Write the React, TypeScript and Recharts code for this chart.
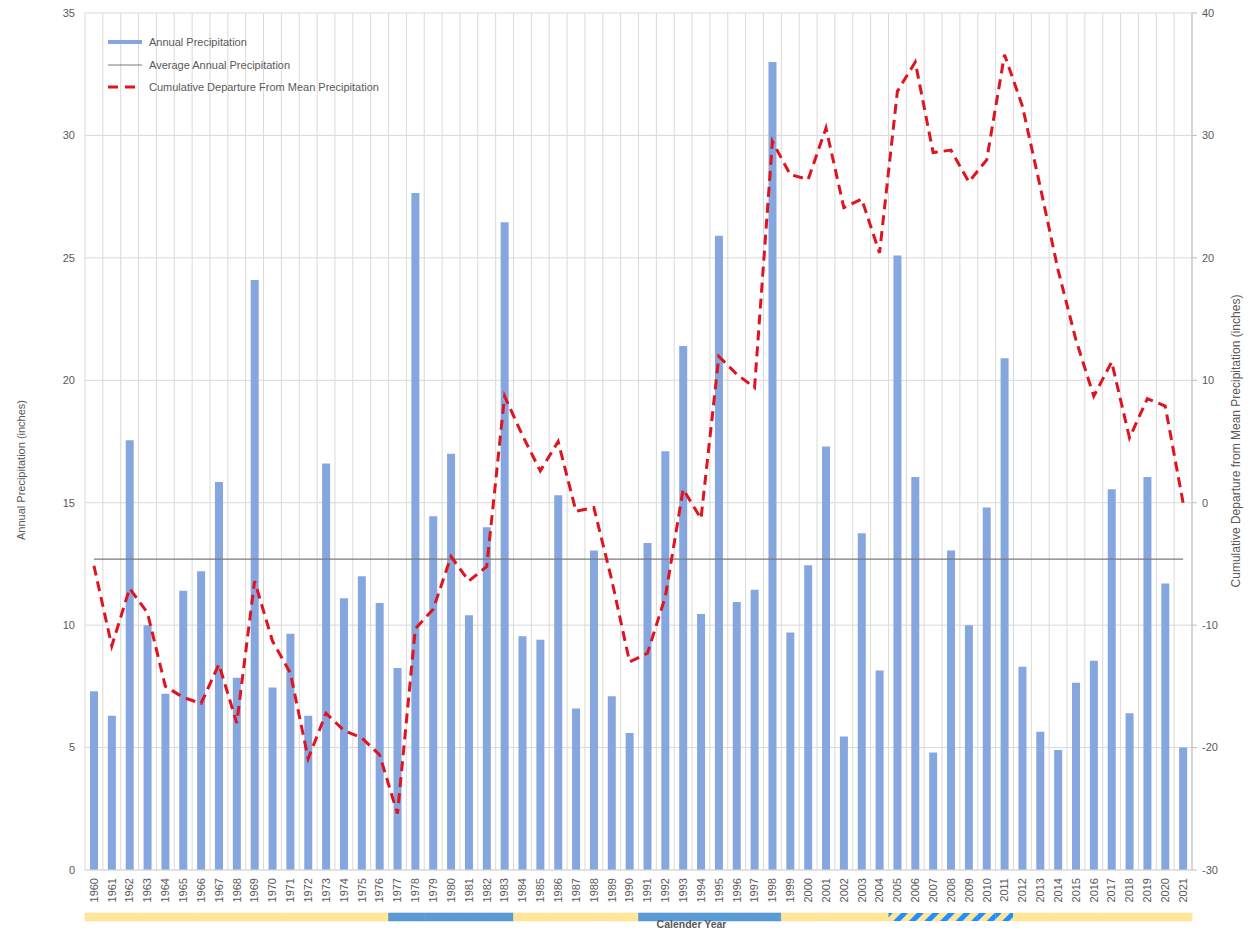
import React from "react";
import {
  ComposedChart,
  BarChart,
  Bar,
  Line,
  Cell,
  XAxis,
  YAxis,
  CartesianGrid,
  Legend,
  Label,
} from "recharts";

const years = [
  "1960", "1961", "1962", "1963", "1964", "1965", "1966", "1967", "1968", "1969",
  "1970", "1971", "1972", "1973", "1974", "1975", "1976", "1977", "1978", "1979",
  "1980", "1981", "1982", "1983", "1984", "1985", "1986", "1987", "1988", "1989",
  "1990", "1991", "1992", "1993", "1994", "1995", "1996", "1997", "1998", "1999",
  "2000", "2001", "2002", "2003", "2004", "2005", "2006", "2007", "2008", "2009",
  "2010", "2011", "2012", "2013", "2014", "2015", "2016", "2017", "2018", "2019",
  "2020", "2021",
];

// inches
const annualPrecip = [
  7.3, 6.3, 17.55, 10.0, 7.2, 11.4, 12.2, 15.85, 7.85, 24.1,
  7.45, 9.65, 6.3, 16.6, 11.1, 12.0, 10.9, 8.25, 27.65, 14.45,
  17.0, 10.4, 14.0, 26.45, 9.55, 9.4, 15.3, 6.6, 13.05, 7.1,
  5.6, 13.35, 17.1, 21.4, 10.45, 25.9, 10.95, 11.45, 33.0, 9.7,
  12.45, 17.3, 5.45, 13.75, 8.15, 25.1, 16.05, 4.8, 13.05, 10.0,
  14.8, 20.9, 8.3, 5.65, 4.9, 7.65, 8.55, 15.55, 6.4, 16.05,
  11.7, 5.0,
];

const cumulativeDeparture = [
  -5.15, -11.7, -7.0, -9.0, -15.0, -15.9, -16.4, -13.2, -18.0, -6.4,
  -11.3, -13.9, -20.9, -17.2, -18.6, -19.2, -20.6, -25.4, -10.3, -8.7,
  -4.4, -6.4, -5.2, 8.7, 5.5, 2.6, 5.0, -0.7, -0.4, -6.3,
  -13.0, -12.3, -7.7, 1.1, -1.3, 11.95, 10.5, 9.4, 29.5, 26.8,
  26.4, 30.6, 24.1, 24.8, 20.4, 33.6, 36.0, 28.6, 28.8, 26.2,
  28.0, 36.6, 32.4, 25.8, 19.0, 13.3, 8.7, 11.5, 5.3, 8.5,
  7.9, 0.0,
];

const averagePrecip = 12.7;

const leftTicks = [0, 5, 10, 15, 20, 25, 30, 35];
const rightTicks = [-30, -20, -10, 0, 10, 20, 30, 40];

// band under the year labels
const periods = [
  { from: "1960", to: "1976", kind: "dry" },
  { from: "1977", to: "1983", kind: "wet" },
  { from: "1984", to: "1990", kind: "dry" },
  { from: "1991", to: "1998", kind: "wet" },
  { from: "1999", to: "2004", kind: "dry" },
  { from: "2005", to: "2011", kind: "mixed" },
  { from: "2012", to: "2021", kind: "dry" },
];

const BAR_COLOR = "#86a6df";
const AVG_COLOR = "#7a7a7a";
const CUM_COLOR = "#e0141e";
const TEXT = "#595959";
const GRID = "#d9d9d9";
const kindFill: Record<string, string> = {
  dry: "#ffe699",
  wet: "#5b9bd5",
  mixed: "url(#stripes)",
};

const chartData = years.map((year, i) => ({
  year,
  precip: annualPrecip[i],
  avg: averagePrecip,
  cum: cumulativeDeparture[i],
}));

const bandData = years.map((year) => {
  const p = periods.find((q) => year >= q.from && year <= q.to);
  return { year, band: 1, kind: p ? p.kind : "dry" };
});

function YearTick({ x, y, payload }: any) {
  return (
    <text
      x={x}
      y={y}
      transform={`rotate(-90 ${x} ${y})`}
      textAnchor="end"
      dy="0.35em"
      fontSize={11}
      fill={TEXT}
    >
      {payload.value}
    </text>
  );
}

function VerticalTitle({ viewBox, value, cx, cy, size }: any) {
  const x = viewBox.x + cx;
  const y = viewBox.y + cy;
  return (
    <text
      x={x}
      y={y}
      transform={`rotate(-90 ${x} ${y})`}
      textAnchor="middle"
      dominantBaseline="middle"
      fontSize={size}
      fill={TEXT}
    >
      {value}
    </text>
  );
}

function BottomTitle({ viewBox, value, dx, cy }: any) {
  return (
    <text
      x={viewBox.x + viewBox.width / 2 + dx}
      y={viewBox.y + cy}
      textAnchor="middle"
      dominantBaseline="middle"
      fontSize={10.5}
      fontWeight="bold"
      fill={TEXT}
    >
      {value}
    </text>
  );
}

const legendItems = [
  { name: "Annual Precipitation", type: "bar" },
  { name: "Average Annual Precipitation", type: "avg" },
  { name: "Cumulative Departure From Mean Precipitation", type: "cum" },
];

function LegendBox() {
  return (
    <div style={{ fontSize: 11, color: TEXT, lineHeight: "22.5px" }}>
      {legendItems.map((it) => (
        <div key={it.name} style={{ display: "flex", alignItems: "center", height: 22.5 }}>
          <svg width={38} height={10} style={{ marginRight: 3 }}>
            {it.type === "bar" && <rect x={0} y={3} width={34} height={4} fill={BAR_COLOR} />}
            {it.type === "avg" && <line x1={0} y1={5} x2={34} y2={5} stroke={AVG_COLOR} strokeWidth={1.2} />}
            {it.type === "cum" && (
              <line x1={0} y1={5} x2={34} y2={5} stroke={CUM_COLOR} strokeWidth={3} strokeDasharray="10 7" />
            )}
          </svg>
          <span>{it.name}</span>
        </div>
      ))}
    </div>
  );
}

export default function App() {
  return (
    <div
      style={{
        width: 1249,
        height: 931,
        background: "#fff",
        fontFamily: "'Liberation Sans', Arial, sans-serif",
      }}
    >
      <style>{"body{margin:0}"}</style>
      <ComposedChart
        width={1249}
        height={912}
        data={chartData}
        margin={{ top: 13, right: 0, left: 0, bottom: 0 }}
      >
        <CartesianGrid
          yAxisId="left"
          stroke={GRID}
          verticalCoordinatesGenerator={({ offset }: any) =>
            Array.from({ length: years.length + 1 }, (_, i) => offset.left + (i * offset.width) / years.length)
          }
        />
        <XAxis
          dataKey="year"
          interval={0}
          height={42}
          tick={<YearTick />}
          tickLine={false}
          axisLine={{ stroke: GRID }}
        />
        <YAxis
          yAxisId="left"
          width={85}
          domain={[0, 35]}
          ticks={leftTicks}
          axisLine={false}
          tickLine={false}
          tickMargin={4}
          tick={{ fill: TEXT, fontSize: 11 }}
        >
          <Label
            content={<VerticalTitle value="Annual Precipitation (inches)" cx={22} cy={457} size={11} />}
          />
        </YAxis>
        <YAxis
          yAxisId="right"
          orientation="right"
          width={57}
          domain={[-30, 40]}
          ticks={rightTicks}
          axisLine={{ stroke: "#bfbfbf" }}
          tickLine={{ stroke: "#bfbfbf" }}
          tickSize={5}
          tickMargin={5}
          tick={{ fill: TEXT, fontSize: 11, textAnchor: "start" }}
        >
          <Label
            content={
              <VerticalTitle
                value="Cumulative Departure from Mean Precipitation (inches)"
                cx={45}
                cy={428}
                size={12}
              />
            }
          />
        </YAxis>
        <Bar yAxisId="left" dataKey="precip" fill={BAR_COLOR} barSize={8} isAnimationActive={false} />
        <Line
          yAxisId="left"
          dataKey="avg"
          stroke={AVG_COLOR}
          strokeWidth={1.2}
          dot={false}
          activeDot={false}
          isAnimationActive={false}
        />
        <Line
          yAxisId="right"
          dataKey="cum"
          stroke={CUM_COLOR}
          strokeWidth={3}
          strokeDasharray="10 6"
          dot={false}
          activeDot={false}
          isAnimationActive={false}
        />
        <Legend
          layout="vertical"
          align="center"
          verticalAlign="middle"
          content={<LegendBox />}
          wrapperStyle={{ top: 31, left: 108, width: "auto" }}
        />
      </ComposedChart>
      <BarChart
        width={1249}
        height={19}
        data={bandData}
        margin={{ top: 1, right: 57, left: 85, bottom: 0 }}
        barCategoryGap={0}
      >
        <defs>
          <pattern id="stripes" patternUnits="userSpaceOnUse" width={11} height={11} patternTransform="rotate(45)">
            <rect x={0} y={0} width={11} height={11} fill="#ffe699" />
            <rect x={0} y={0} width={5} height={11} fill="#1f8fff" />
          </pattern>
        </defs>
        <XAxis
          dataKey="year"
          height={10}
          tick={false}
          tickLine={false}
          axisLine={false}
        >
          <Label content={<BottomTitle value="Calender Year" dx={53} cy={4} />} />
        </XAxis>
        <YAxis hide domain={[0, 1]} />
        <Bar dataKey="band" isAnimationActive={false}>
          {bandData.map((d) => (
            <Cell key={d.year} fill={kindFill[d.kind]} stroke={d.kind === "mixed" ? "none" : kindFill[d.kind]} strokeWidth={0.6} />
          ))}
        </Bar>
      </BarChart>
    </div>
  );
}
